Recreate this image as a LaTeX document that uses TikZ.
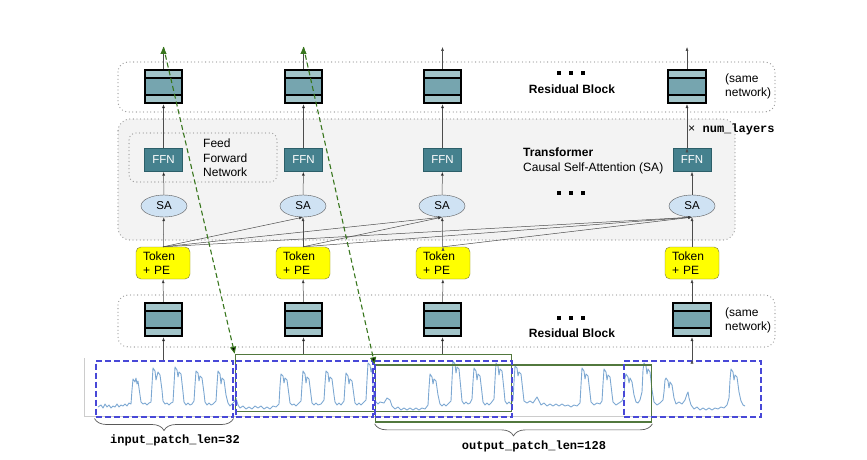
\documentclass[tikz,border=0pt]{standalone}
\usepackage{fontspec}
\setmainfont{Liberation Sans}
\setmonofont{Liberation Mono}
\usetikzlibrary{shapes.geometric,arrows.meta,decorations.pathreplacing}
\definecolor{resLight}{HTML}{A2C4C9}
\definecolor{resMid}{HTML}{76A5AF}
\definecolor{ffnFill}{HTML}{45818E}
\definecolor{ffnDraw}{HTML}{2C5F69}
\definecolor{saFill}{HTML}{CFE2F3}
\definecolor{saDraw}{HTML}{595959}
\definecolor{tokFill}{HTML}{FFFF00}
\definecolor{tokDraw}{HTML}{7A7A40}
\definecolor{panelFill}{HTML}{F3F3F3}
\definecolor{dotGray}{HTML}{9A9A9A}
\definecolor{patchBlue}{RGB}{72,72,215}
\definecolor{patchGreen}{RGB}{82,120,62}
\definecolor{arrowGreen}{HTML}{38761D}
\definecolor{sigBlue}{RGB}{125,168,210}
\begin{document}
\begin{tikzpicture}[x=1pt,y=-1pt,
  font=\fontsize{12}{14}\selectfont,
  arr/.style={-{Latex[length=4pt,width=3pt]},line width=0.5pt,draw=black!70},
  panel/.style={draw=dotGray,line width=1.3pt,dash pattern=on 0pt off 3.6pt,line cap=round,rounded corners=10pt},
  res/.style={rectangle,draw=black,line width=1.6pt,fill=resLight,minimum width=37.5pt,minimum height=33.5pt,inner sep=0pt,
    path picture={\fill[resMid] ([yshift=-8pt]path picture bounding box.north west) rectangle ([yshift=8pt]path picture bounding box.south east);
      \draw[line width=1.6pt] ([yshift=-8pt]path picture bounding box.north west) -- ([yshift=-8pt]path picture bounding box.north east)
        ([yshift=8pt]path picture bounding box.south west) -- ([yshift=8pt]path picture bounding box.south east);}},
  ffn/.style={rectangle,draw=ffnDraw,fill=ffnFill,text=white,minimum width=38pt,minimum height=23pt,inner sep=0pt,font=\fontsize{11.5}{13}\selectfont},
  sa/.style={ellipse,draw=saDraw,fill=saFill,minimum width=46pt,minimum height=22pt,inner sep=0pt,font=\fontsize{11.5}{13}\selectfont},
  tok/.style={rectangle,draw=tokDraw,fill=tokFill,rounded corners=5pt,text width=40pt,inner xsep=7pt,minimum height=32pt,align=left},
  patch/.style={rectangle,draw=patchBlue,line width=2pt,dash pattern=on 6pt off 3pt,minimum width=137pt,minimum height=56pt,inner sep=0pt},
  window/.style={rectangle,draw=patchGreen,line width=1.7pt,minimum width=276pt,minimum height=57pt,inner sep=0pt},
  slide/.style={draw=arrowGreen,line width=1.1pt,dash pattern=on 5pt off 3pt,-{Triangle[length=7pt,width=6pt]}},
  lenbrace/.style={decorate,decoration={brace,mirror,amplitude=12pt,raise=1pt},draw=black!65,line width=0.7pt},
  series/.style={draw=sigBlue,line width=0.9pt,line join=round},
  mono/.style={font=\fontsize{12}{14}\selectfont\ttfamily\bfseries},
  bold/.style={font=\fontsize{12}{14}\selectfont\bfseries}]
\useasboundingbox (0,0) rectangle (867,460);

% panels
\draw[panel] (118,62) rectangle (775,112);
\draw[panel,fill=panelFill,rounded corners=12pt] (118,119) rectangle (735,240);
\draw[panel,rounded corners=7pt] (129,133) rectangle (277,182);
\draw[panel] (118,295) rectangle (775,347);

% time series
\draw[gray!40,line width=0.6pt] (84,358) -- (84,416) -- (745,416);
\draw[series] plot coordinates {
(98,407) (101,405) (103,408) (105,404) (107,407) (109,405) (111,408) (113,406) (115,407) (117,404) (119,407) (121,405) (123,406) (125,404) (127,406) (129,403) (131,404)
(132,390) (133,379) (135,382) (136,378) (137,384) (138,381) (140,395) (141,402) (143,404) (145,403) (147,405) (149,403) (151,402)
(152,385) (153,368) (155,371) (156,380) (157,376) (158,372) (160,375) (162,390) (163,401) (165,404) (167,403) (169,405) (171,403) (173,402)
(174,385) (175,367) (177,370) (178,377) (179,372) (181,374) (183,392) (184,402) (186,405) (188,403) (190,405) (192,404) (194,401)
(195,385) (196,371) (198,373) (199,381) (200,376) (202,378) (204,393) (205,402) (207,405) (209,403) (211,405) (213,404) (216,401)
(217,385) (218,371) (220,374) (221,384) (222,378) (224,380) (226,395) (228,403) (230,406) (232,404)
(234,402) (236,398) (238,405) (240,408) (243,406) (246,409) (249,407) (252,409) (255,406) (258,408) (261,406) (264,409) (267,407) (270,409) (273,406) (276,407) (279,404)
(280,386) (281,374) (283,376) (284,383) (285,378) (287,380) (289,395) (290,403) (292,405) (294,404) (296,406) (298,404) (301,401)
(302,385) (303,371) (305,374) (306,383) (307,377) (309,379) (311,395) (312,403) (314,405) (316,403) (318,405) (321,404) (324,400)
(325,384) (326,371) (328,373) (329,382) (330,377) (332,379) (334,395) (335,402) (337,405) (339,403) (341,405) (344,401)
(345,385) (346,373) (348,376) (349,384) (350,379) (352,381) (354,396) (355,403) (357,405) (359,403) (361,405) (363,403) (366,400)
(367,380) (368,363) (370,365) (371,372) (372,368) (373,385) (374,396) (376,402) (378,404) (380,402)
(384,403) (387,398) (390,400) (392,406) (395,409) (398,407) (401,410) (404,408) (407,410) (410,408) (413,410) (416,408) (419,410) (422,408) (425,409) (428,405)
(429,388) (430,374) (432,377) (433,384) (434,379) (436,381) (438,395) (440,404) (442,406) (444,404) (446,406) (448,404) (451,401)
(452,380) (453,361) (455,364) (456,373) (457,367) (459,369) (461,390) (462,401) (464,404) (466,402) (468,404) (470,403) (472,399)
(473,382) (474,368) (476,371) (477,380) (478,374) (480,376) (482,393) (483,402) (485,405) (487,403) (489,405) (491,403) (494,399)
(495,380) (496,363) (498,366) (499,375) (500,369) (502,371) (504,390) (505,401) (507,404) (509,402) (511,404) (513,400)
(514,382) (515,366) (517,368) (518,376) (519,372) (521,374) (523,392) (524,401) (527,403) (530,401) (533,403) (535,400) (537,397) (539,401) (541,405) (544,403) (547,406) (550,404) (553,406) (556,404) (559,406) (562,404) (565,406) (568,405) (571,407) (574,405) (577,406) (580,403)
(581,385) (582,368) (584,371) (585,379) (586,374) (588,376) (590,393) (591,402) (594,405) (597,403) (600,404) (602,401)
(603,384) (604,369) (606,372) (607,380) (608,375) (610,377) (612,394) (613,402) (616,405) (619,403) (622,401) (624,396)
(625,378) (626,374) (628,377) (629,383) (630,378) (632,382) (634,395) (636,402) (638,403) (640,400) (642,392)
(643,370) (644,363) (646,366) (647,374) (648,369) (650,372) (652,390) (654,402) (657,405) (660,403) (663,400) (664,392)
(665,380) (666,378) (668,381) (669,388) (670,382) (672,385) (674,398) (676,404) (679,402) (682,404) (685,400) (687,394) (688,392) (689,398) (691,405) (694,409) (697,407) (700,410) (703,408) (706,410) (709,408) (712,410) (715,408) (718,409) (721,407) (724,408) (727,405) (729,398)
(730,380) (731,369) (733,372) (734,380) (735,375) (737,377) (739,392) (741,401) (743,405) (745,406)};

% patches and windows
\node[window] (g1) at (373.5,383) {};
\node[window] (g2) at (513.5,393.5) {};
\node[patch] (b1) at (164,388.5) {};
\node[patch] (b2) at (304,388.5) {};
\node[patch] (b3) at (443.5,388.5) {};
\node[patch] (b4) at (692.5,388.5) {};

% input residual blocks
\node[res] (r1b) at (163.5,319.5) {};
\node[res] (r2b) at (303.5,319.5) {};
\node[res] (r3b) at (442.5,319.5) {};
\node[res] (r4b) at (692,319.5) {};

% tokens
\node[tok] (t1) at (163,263) {Token\\+ PE};
\node[tok] (t2) at (303,263) {Token\\+ PE};
\node[tok] (t3) at (443,263) {Token\\+ PE};
\node[tok] (t4) at (692,263) {Token\\+ PE};

% transformer
\node[sa] (s1) at (164,206) {SA};
\node[sa] (s2) at (303,206) {SA};
\node[sa] (s3) at (442,206) {SA};
\node[sa] (s4) at (692,206) {SA};
\node[ffn] (f1) at (163.5,160) {FFN};
\node[ffn] (f2) at (303.5,160) {FFN};
\node[ffn] (f3) at (442.5,160) {FFN};
\node[ffn] (f4) at (692,160) {FFN};

% output residual blocks
\node[res] (r1t) at (163.5,86.5) {};
\node[res] (r2t) at (303.5,86.5) {};
\node[res] (r3t) at (442.5,86.5) {};
\node[res] (r4t) at (687,86.5) {};
\coordinate (o1) at (163.5,47);
\coordinate (o2) at (303.5,47);
\coordinate (o3) at (442.5,47);
\coordinate (o4) at (687,47);

% texts
\node[bold] (rbtop) at (572,89) {Residual Block};
\node[align=left,anchor=west,inner sep=0pt] (sametop) at (725,86) {(same\\network)};
\node[anchor=west,inner sep=0pt] (layers) at (688,129.5) {\ttfamily × \textbf{num\_layers}};
\node[anchor=west,align=left,inner sep=0pt,font=\fontsize{12}{15}\selectfont] (trf) at (523,160.5) {\textbf{Transformer}\\Causal Self-Attention (SA)};
\node[anchor=west,align=left,inner sep=0pt,font=\fontsize{12}{14.5}\selectfont] (ffnlbl) at (203,158) {Feed\\Forward\\Network};
\node[bold] (rbbot) at (572,333) {Residual Block};
\node[align=left,anchor=west,inner sep=0pt] (samebot) at (725,320) {(same\\network)};
\foreach \dy in {73,193,318}
  \foreach \dx in {558.5,570.5,582.5}
    \fill (\dx-2,\dy-2) rectangle (\dx+2,\dy+2);

% vertical flow
\path [arr] (b1.north -| r1b) edge (r1b)
            (g1.north -| r2b) edge (r2b)
            (g1.north -| r3b) edge (r3b)
            (b4.north -| r4b) edge (r4b);
\path [arr] (r1b) edge (t1) (r2b) edge (t2) (r3b) edge (t3) (r4b) edge (t4);
\path [arr] (t1) edge (s1) (t2) edge (s2) (t3) edge (s3) (t4) edge (s4);
\path [arr] (s1) edge (f1) (s2) edge (f2) (s3) edge (f3) (s4) edge (f4);
\path [arr] (f1) edge (r1t) (f2) edge (r2t) (f3) edge (r3t) (r4t |- f4.north) edge (r4t);
\path [arr] (r1t) edge (o1) (r2t) edge (o2) (r3t) edge (o3) (r4t) edge (o4);

% causal attention
\path [arr] (t1.north) edge (s2.south)
            (t1.north) edge (s3.south)
            (t1.north) edge (s4.south)
            (t2.north) edge (s3.south)
            (t2.north) edge (s4.south)
            (t3.north) edge (s4.south);

% shifted targets
\path [slide] (o1) edge (g1.north west);
\path [slide] (o2) edge (g2.north west);

% lengths
\draw[lenbrace] (b1.south west) -- (b1.south east);
\draw[lenbrace] (g2.south west) -- (g2.south east);
\node[mono] (inlen) at (175,440) {input\_patch\_len=32};
\node[mono] (outlen) at (534,446) {output\_patch\_len=128};
\end{tikzpicture}
\end{document}
